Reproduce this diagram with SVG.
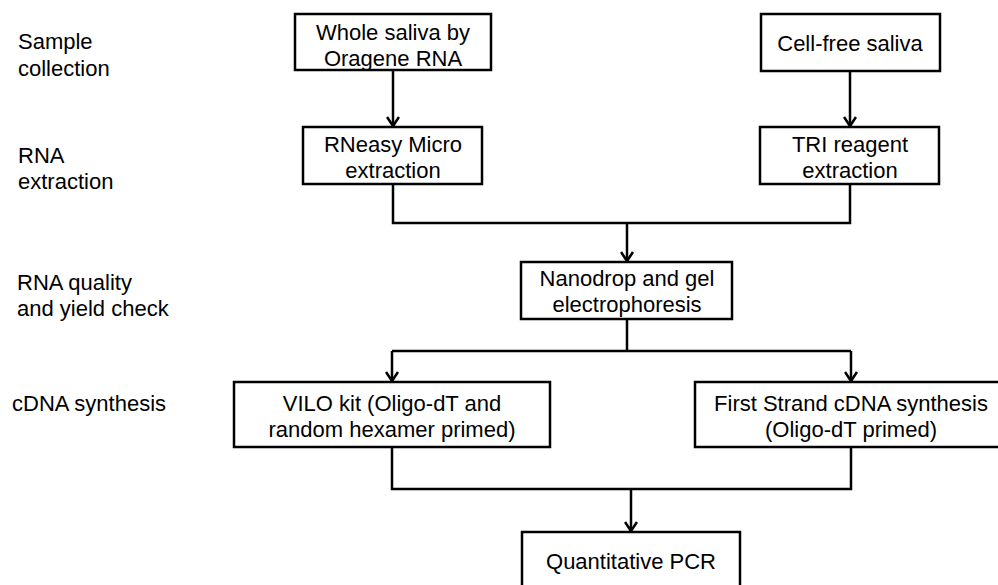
<svg xmlns="http://www.w3.org/2000/svg" width="998" height="585" viewBox="0 0 998 585">
<defs>
<style>
text{font-family:"Liberation Sans","Open Sans",Arial,sans-serif;font-size:22px;fill:#000}
.lbl{text-anchor:start}
.c{text-anchor:middle}
.box{fill:#fff;stroke:#000;stroke-width:2.5}
.conn{fill:none;stroke:#000;stroke-width:2.5}
</style>
<marker id="arr" markerUnits="userSpaceOnUse" viewBox="0 0 12 14" refX="10.5" refY="7" markerWidth="12" markerHeight="14" orient="auto">
<path d="M1.5,1 L10.5,7 L1.5,13" fill="none" stroke="#000" stroke-width="2.6"/>
</marker>
</defs>
<rect width="998" height="585" fill="#fff"/>
<g id="labels">
<text class="lbl" x="18" y="48.5">Sample</text>
<text class="lbl" x="18" y="75.5">collection</text>
<text class="lbl" x="18" y="162.5">RNA</text>
<text class="lbl" x="18" y="188.5">extraction</text>
<text class="lbl" x="17" y="289.5">RNA quality</text>
<text class="lbl" x="17" y="316">and yield check</text>
<text class="lbl" x="12" y="411">cDNA synthesis</text>
</g>
<g id="connectors">
<path class="conn" d="M393,70 V126" marker-end="url(#arr)"/>
<path class="conn" d="M850,71 V126" marker-end="url(#arr)"/>
<path class="conn" d="M393,184 V223 H850 V184"/>
<path class="conn" d="M627,223 V261" marker-end="url(#arr)"/>
<path class="conn" d="M627,319 V351"/>
<path class="conn" d="M392,351 H851"/>
<path class="conn" d="M392,351 V381" marker-end="url(#arr)"/>
<path class="conn" d="M851,351 V381" marker-end="url(#arr)"/>
<path class="conn" d="M392,447 V489 H851 V447"/>
<path class="conn" d="M631,489 V531" marker-end="url(#arr)"/>
</g>
<g id="whole-saliva">
<rect class="box" x="295" y="14" width="196" height="56"/>
<text class="c" x="393" y="39.5">Whole saliva by</text>
<text class="c" x="393" y="65.5">Oragene RNA</text>
</g>
<g id="cell-free">
<rect class="box" x="761" y="14" width="179" height="57"/>
<text class="c" x="850" y="51">Cell-free saliva</text>
</g>
<g id="rneasy">
<rect class="box" x="303" y="127" width="179" height="57"/>
<text class="c" x="393" y="151.5">RNeasy Micro</text>
<text class="c" x="393" y="177.5">extraction</text>
</g>
<g id="tri">
<rect class="box" x="760" y="127" width="179" height="57"/>
<text class="c" x="850" y="151.5">TRI reagent</text>
<text class="c" x="850" y="177.5">extraction</text>
</g>
<g id="nanodrop">
<rect class="box" x="521" y="262" width="211" height="57"/>
<text class="c" x="627" y="285.5">Nanodrop and gel</text>
<text class="c" x="627" y="311.5">electrophoresis</text>
</g>
<g id="vilo">
<rect class="box" x="234" y="382" width="316" height="65"/>
<text class="c" x="392" y="410.5">VILO kit (Oligo-dT and</text>
<text class="c" x="392" y="436.5">random hexamer primed)</text>
</g>
<g id="first-strand">
<rect class="box" x="695" y="382" width="312" height="65"/>
<text class="c" x="851" y="410.5">First Strand cDNA synthesis</text>
<text class="c" x="851" y="436.5">(Oligo-dT primed)</text>
</g>
<g id="qpcr">
<rect class="box" x="522" y="532" width="218" height="70"/>
<text class="c" x="631" y="569">Quantitative PCR</text>
</g>
</svg>
